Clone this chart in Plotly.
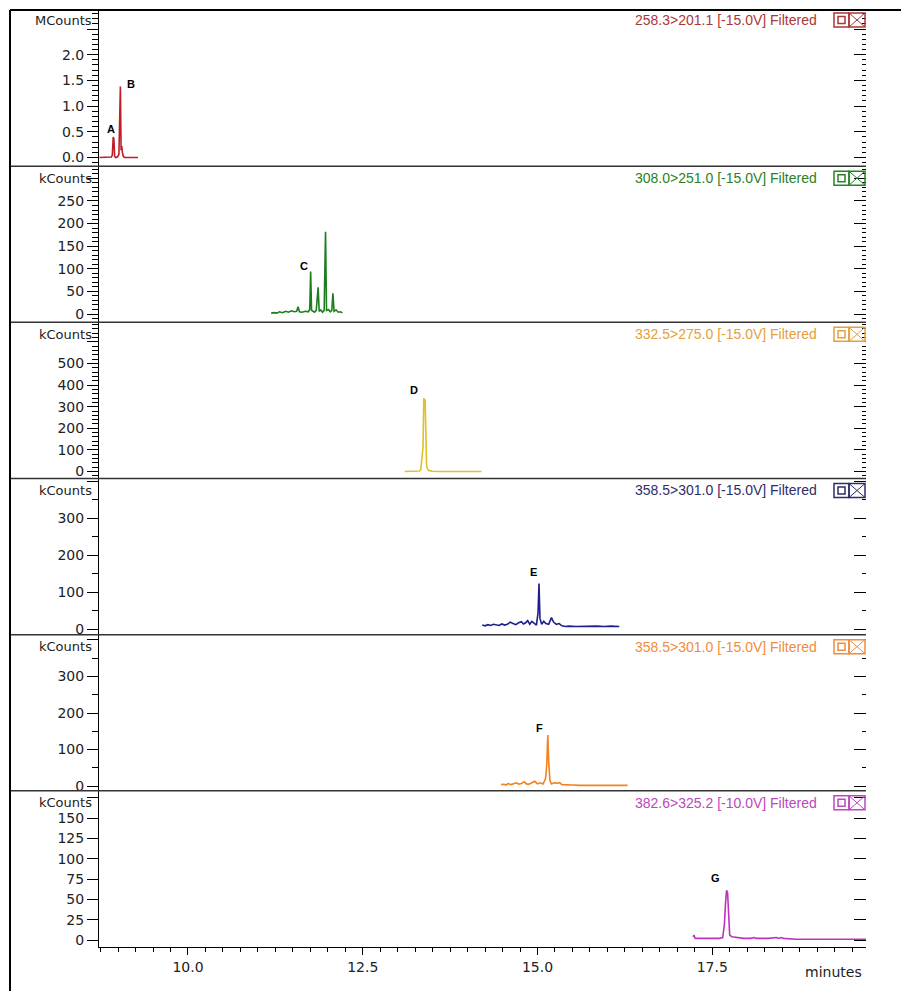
import plotly.graph_objects as go

# ---------------- data ----------------
# Panel 1: 258.3>201.1, MCounts
p1_time = [8.735, 8.80, 8.88, 8.905, 8.918, 8.930, 8.940, 8.950, 8.965, 8.990, 9.012,
           9.033, 9.043, 9.052, 9.062, 9.075, 9.095, 9.15, 9.22, 9.285]
p1_mcounts = [0.0, 0.0, 0.0, 0.01, 0.05, 0.40, 0.36, 0.03, 0.0, 0.01, 0.06,
              1.38, 0.14, 0.22, 0.10, 0.02, 0.0, 0.0, 0.0, 0.0]

# Panel 2: 308.0>251.0, kCounts
p2_time = [11.19, 11.23, 11.27, 11.31, 11.35, 11.40, 11.44, 11.48, 11.52, 11.555, 11.575,
           11.595, 11.63, 11.68, 11.72, 11.742, 11.755, 11.768, 11.79, 11.81, 11.835, 11.862,
           11.877, 11.90, 11.925, 11.948, 11.968, 11.982, 12.01, 12.035, 12.058, 12.073,
           12.09, 12.12, 12.15, 12.18, 12.21]
p2_kcounts = [2, 3, 2, 5, 3, 6, 4, 7, 5, 6, 16,
              5, 4, 6, 5, 10, 94, 8, 6, 4, 8, 59,
              6, 9, 4, 8, 182, 8, 10, 5, 8, 46,
              6, 9, 4, 5, 3]

# Panel 3: 332.5>275.0, kCounts
p3_time = [13.10, 13.25, 13.31, 13.33, 13.345, 13.362, 13.374, 13.383, 13.392, 13.402,
           13.414, 13.43, 13.45, 13.50, 13.60, 14.20]
p3_kcounts = [0, 0, 2, 8, 74, 110, 340, 318, 335, 90, 25, 10, 4, 1, 0, 0]

# Panel 4: 358.5>301.0, kCounts
p4_time = [14.21, 14.25, 14.29, 14.33, 14.37, 14.41, 14.45, 14.49, 14.53, 14.57, 14.61,
           14.65, 14.69, 14.73, 14.77, 14.80, 14.83, 14.86, 14.89, 14.92, 14.95, 14.985,
           15.008, 15.022, 15.036, 15.06, 15.09, 15.12, 15.16, 15.20, 15.23, 15.27, 15.31,
           15.35, 15.40, 15.45, 15.55, 15.65, 15.75, 15.85, 15.95, 16.05, 16.17]
p4_kcounts = [12, 10, 13, 11, 14, 12, 11, 15, 12, 14, 20,
              16, 13, 18, 21, 15, 18, 24, 14, 22, 18, 12,
              45, 124, 30, 14, 22, 16, 14, 32, 20, 14, 16,
              10, 8, 9, 8, 9, 8, 9, 8, 9, 8]

# Panel 5: 358.5>301.0, kCounts
p5_time = [14.48, 14.52, 14.55, 14.58, 14.62, 14.66, 14.70, 14.73, 14.77, 14.81, 14.84,
           14.88, 14.92, 14.96, 15.00, 15.04, 15.08, 15.115, 15.132, 15.148, 15.162, 15.178,
           15.20, 15.24, 15.28, 15.32, 15.35, 15.40, 15.50, 15.60, 15.75, 15.90, 16.05,
           16.15, 16.22, 16.25, 16.29]
p5_kcounts = [4, 5, 3, 7, 4, 6, 9, 5, 7, 12, 6,
              5, 8, 13, 6, 9, 6, 20, 55, 140, 60, 15,
              6, 9, 8, 9, 4, 3, 3, 2, 2, 2, 2,
              2, 4, 2, 2]

# Panel 6: 382.6>325.2, kCounts
p6_time = [17.225, 17.24, 17.255, 17.30, 17.40, 17.50, 17.60, 17.65, 17.675, 17.69, 17.705,
           17.72, 17.735, 17.75, 17.78, 17.85, 17.95, 18.05, 18.10, 18.13, 18.20, 18.30,
           18.42, 18.45, 18.48, 18.52, 18.70, 18.90, 19.10, 19.30, 19.50, 19.70]
p6_kcounts = [4, 6, 2, 2, 2, 2, 2, 3, 20, 45, 61,
              58, 20, 6, 4, 3, 2, 2, 3, 2, 2, 2,
              3, 2, 3, 2, 1, 1, 1, 1, 1, 1]

# text
channel_labels = ["258.3>201.1 [-15.0V] Filtered", "308.0>251.0 [-15.0V] Filtered",
                  "332.5>275.0 [-15.0V] Filtered", "358.5>301.0 [-15.0V] Filtered",
                  "358.5>301.0 [-15.0V] Filtered", "382.6>325.2 [-10.0V] Filtered"]
unit_labels = ["MCounts", "kCounts", "kCounts", "kCounts", "kCounts", "kCounts"]

# y tick values / labels per panel
p1_ticks = [0.0, 0.5, 1.0, 1.5, 2.0, 2.5]
p1_ticktext = ["0.0", "0.5", "1.0", "1.5", "2.0", ""]
p2_ticks = [0, 50, 100, 150, 200, 250, 300]
p2_ticktext = ["0", "50", "100", "150", "200", "250", ""]
p3_ticks = [0, 100, 200, 300, 400, 500, 600]
p3_ticktext = ["0", "100", "200", "300", "400", "500", ""]
p4_ticks = [0, 100, 200, 300, 400]
p4_ticktext = ["0", "100", "200", "300", ""]
p5_ticks = [0, 100, 200, 300, 400]
p5_ticktext = ["0", "100", "200", "300", ""]
p6_ticks = [0, 25, 50, 75, 100, 125, 150, 175]
p6_ticktext = ["0", "25", "50", "75", "100", "125", "150", ""]

x_ticks = [10.0, 12.5, 15.0, 17.5]
x_ticktext = ["10.0", "12.5", "15.0", "17.5"]

# peak letters: (letter, time, height)
p1_peaks = [("A", 8.90, 0.55), ("B", 9.19, 1.43)]
p2_peaks = [("C", 11.66, 106)]
p3_peaks = [("D", 13.24, 378)]
p4_peaks = [("E", 14.94, 155)]
p5_peaks = [("F", 15.03, 160)]
p6_peaks = [("G", 17.55, 76)]

# ---------------- styling ----------------
PAGE_OFF = 8                      # browser body margin
PAGE_W, PAGE_H = 909, 991
W, H = PAGE_W - PAGE_OFF, PAGE_H - PAGE_OFF
L, R, T, B = 99, 866, 10, 947      # plot area in page pixels
line_colors = ["rgb(190,30,40)", "rgb(30,125,30)", "rgb(222,192,40)",
               "rgb(30,30,140)", "rgb(242,130,30)", "rgb(190,50,190)"]
text_colors = ["rgb(170,55,55)", "rgb(40,130,40)", "rgb(228,160,60)",
               "rgb(45,45,105)", "rgb(240,140,60)", "rgb(190,70,190)"]
y_ranges = [[-0.169, 2.870], [-18.4, 327], [-32.4, 690.7],
            [-14, 408], [-13, 414.5], [-8.6, 183.5]]
minor_dticks = [0.1, 10, 20, 50, 50, None]

panels = [
    (p1_time, p1_mcounts, p1_ticks, p1_ticktext, p1_peaks),
    (p2_time, p2_kcounts, p2_ticks, p2_ticktext, p2_peaks),
    (p3_time, p3_kcounts, p3_ticks, p3_ticktext, p3_peaks),
    (p4_time, p4_kcounts, p4_ticks, p4_ticktext, p4_peaks),
    (p5_time, p5_kcounts, p5_ticks, p5_ticktext, p5_peaks),
    (p6_time, p6_kcounts, p6_ticks, p6_ticktext, p6_peaks),
]


def px(xp):
    return (xp - L) / (R - L)


def py(yp):
    return 1 - (yp - T) / (B - T)


fig = go.Figure()
layout = dict(
    width=W, height=H, autosize=False,
    margin=dict(l=L - PAGE_OFF, r=PAGE_W - R, t=T - PAGE_OFF, b=PAGE_H - B, pad=0),
    paper_bgcolor="white", plot_bgcolor="white",
    showlegend=False,
    font=dict(family="DejaVu Sans", size=14, color="#222"),
    xaxis=dict(domain=[0, 1], range=[8.727, 19.70], anchor="y6",
               showline=True, linecolor="black", linewidth=1,
               showgrid=False, zeroline=False,
               ticks="outside", ticklen=7, tickcolor="black",
               tickvals=x_ticks, ticktext=x_ticktext,
               minor=dict(dtick=0.25, tick0=0, ticks="outside", ticklen=4,
                          tickcolor="black", showgrid=False),
               tickfont=dict(family="DejaVu Sans", size=14, color="#222")),
)

annotations = []
shapes = []
n = len(panels)
panel_h = (B - T) / n
for i, (tt, vv, tv, ttx, peaks) in enumerate(panels):
    k = i + 1
    yname = "y" if k == 1 else f"y{k}"
    fig.add_trace(go.Scatter(x=tt, y=vv, mode="lines", xaxis="x", yaxis=yname,
                             line=dict(color=line_colors[i], width=1.6),
                             hoverinfo="skip", showlegend=False))
    dom = [1 - k / n, 1 - (k - 1) / n]
    ax = dict(domain=dom, range=y_ranges[i], anchor="x",
              showline=True, linecolor="black", linewidth=1,
              showgrid=False, zeroline=False,
              ticks="outside", ticklen=11, tickcolor="black", tickwidth=1,
              tickvals=tv, ticktext=ttx, ticklabelstandoff=0,
              tickfont=dict(family="DejaVu Sans", size=14, color="#222"))
    if minor_dticks[i]:
        ax["minor"] = dict(dtick=minor_dticks[i], tick0=0, ticks="outside",
                           ticklen=6, tickcolor="black", showgrid=False)
    layout["yaxis" if k == 1 else f"yaxis{k}"] = ax

    # right-hand inside ticks
    rk = k + n
    fig.add_trace(go.Scatter(x=[None], y=[None], xaxis="x", yaxis=f"y{rk}",
                             hoverinfo="skip", showlegend=False))
    rax = dict(overlaying=yname, side="right", anchor="x", range=y_ranges[i],
               showline=False, showgrid=False, zeroline=False,
               ticks="inside", ticklen=12, tickcolor="black",
               tickvals=tv, showticklabels=False)
    if minor_dticks[i]:
        rax["minor"] = dict(dtick=minor_dticks[i], tick0=0, ticks="inside",
                            ticklen=4, tickcolor="black", showgrid=False)
    layout[f"yaxis{rk}"] = rax

    top_px = T + i * panel_h
    label_y = top_px + (10 if i == 0 else 12)
    # unit label
    annotations.append(dict(text=unit_labels[i], xref="paper", yref="paper",
                            x=px(94), y=py(label_y), xanchor="right", yanchor="middle",
                            showarrow=False,
                            font=dict(family="DejaVu Sans", size=13, color="#222")))
    # channel label
    annotations.append(dict(text=channel_labels[i], xref="paper", yref="paper",
                            x=px(819), y=py(label_y), xanchor="right", yanchor="middle",
                            showarrow=False,
                            font=dict(family="Liberation Sans, Arial", size=14,
                                      color=text_colors[i])))
    # icon boxes
    c = text_colors[i]
    y0, y1 = py(label_y + 7), py(label_y - 7)
    shapes.append(dict(type="rect", xref="paper", yref="paper", x0=px(834), x1=px(849),
                       y0=y0, y1=y1, line=dict(color=c, width=1.5)))
    shapes.append(dict(type="rect", xref="paper", yref="paper", x0=px(838), x1=px(845),
                       y0=py(label_y + 3.5), y1=py(label_y - 3.5), line=dict(color=c, width=1.5)))
    shapes.append(dict(type="rect", xref="paper", yref="paper", x0=px(849), x1=px(865),
                       y0=y0, y1=y1, line=dict(color=c, width=1.5)))
    shapes.append(dict(type="line", xref="paper", yref="paper", x0=px(849), x1=px(865),
                       y0=y0, y1=y1, line=dict(color=c, width=1)))
    shapes.append(dict(type="line", xref="paper", yref="paper", x0=px(849), x1=px(865),
                       y0=y1, y1=y0, line=dict(color=c, width=1)))
    # separator below panel (except last)
    if i < n - 1:
        sep = T + (i + 1) * panel_h
        shapes.append(dict(type="line", xref="paper", yref="paper", x0=px(10), x1=px(866),
                           y0=py(sep), y1=py(sep), line=dict(color="#333", width=1.5)))
    # peak letters
    for letter, pt, ph in peaks:
        annotations.append(dict(text=f"<b>{letter}</b>", x=pt, y=ph, xref="x",
                                yref=yname, showarrow=False,
                                font=dict(family="Liberation Sans, Arial", size=11,
                                          color="black")))

# outer frame
shapes.append(dict(type="line", xref="paper", yref="paper", x0=px(10), x1=px(PAGE_W),
                   y0=py(10), y1=py(10), line=dict(color="black", width=2)))
shapes.append(dict(type="line", xref="paper", yref="paper", x0=px(10), x1=px(10),
                   y0=py(10), y1=py(PAGE_H), line=dict(color="black", width=2)))

annotations.append(dict(text="minutes", xref="paper", yref="paper", x=px(864), y=py(972),
                        xanchor="right", yanchor="middle", showarrow=False,
                        font=dict(family="DejaVu Sans", size=14, color="#222")))

layout["annotations"] = annotations
layout["shapes"] = shapes
fig.update_layout(**layout)
fig.write_html("out.html")
